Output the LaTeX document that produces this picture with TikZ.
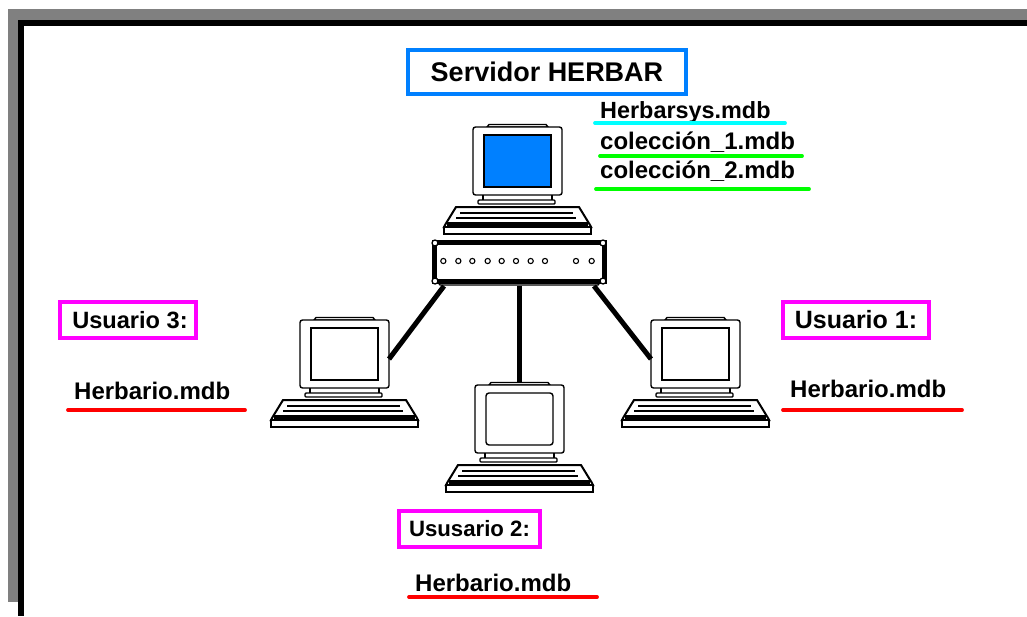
\documentclass[tikz,border=0pt]{standalone}
\usepackage{fontspec}
\setmainfont{Liberation Sans}
\definecolor{frameGray}{RGB}{128,128,128}
\definecolor{srvBlue}{RGB}{0,128,255}
\definecolor{mag}{RGB}{255,0,255}
\definecolor{cyanLine}{RGB}{0,255,255}
\definecolor{greenLine}{RGB}{0,255,0}
\definecolor{redLine}{RGB}{255,0,0}
\tikzset{
  lbl/.style={anchor=base west,inner sep=0pt,font=\fontsize{24}{26}\selectfont\bfseries,text=black},
  userbox/.style={draw=mag,line width=4.5pt,fill=white,inner sep=0pt,minimum height=36pt,text=black,font=\fontsize{23.6}{26}\selectfont\bfseries},
  srvbox/.style={draw=srvBlue,line width=4.5pt,fill=white,inner sep=0pt,minimum height=44pt,minimum width=278pt,text=black,font=\fontsize{27}{28}\selectfont\bfseries},
  uline/.style={line width=3.8pt,line cap=round},
  link/.style={line width=5pt,black},
  thin/.style={line width=1.4pt,black},
  pics/computer/.style 2 args={code={
    % monitor
    \draw[thin,fill=white] (16,-2.5) -- (73,-2.5) -- (75,0) -- (14,0) -- cycle;
    \draw[thin,fill=white,rounded corners=2.5pt] (0,0) rectangle (89,68);
    \draw[thin,fill=#1,rounded corners=#2] (11,8) rectangle (78,60);
    % neck and base
    \draw[thin] (10,68) -- (10,73) (79,68) -- (79,73);
    \draw[thin,fill=white,rounded corners=1pt] (5,73) rectangle (82,77);
    % keyboard
    \draw[line width=2pt,fill=white] (-17,80) -- (106,80) -- (117,98) -- (118,100) -- (-29,100) -- (-28,98) -- cycle;
    \draw[line width=1.2pt] (-13,86) -- (100,86) (-17,91) -- (103,91);
    \fill (-26,95) rectangle (115,100);
    \draw[thin,fill=white] (-29,100) rectangle (118,107);
    \coordinate (-portL) at (0,39);
    \coordinate (-portR) at (89,39);
    \coordinate (-portT) at (44,-2.5);
  }}
}
\begin{document}
\begin{tikzpicture}[x=1pt,y=-1pt]
\useasboundingbox (0,0) rectangle (1027,616);
\fill[white] (0,0) rectangle (1027,616);
% frame
\fill[frameGray] (8,9) rectangle (1027,20);
\fill[frameGray] (8,9) rectangle (18,602);
\fill[black] (18,20) rectangle (1027,26);
\fill[black] (18,20) rectangle (24,616);

% computers
\pic (srv) at (473,127) {computer={srvBlue}{0pt}};
\pic (pcC) at (300,320) {computer={white}{0pt}};
\pic (pcA) at (651,320) {computer={white}{0pt}};
\pic (pcB) at (475,385) {computer={white}{3pt}};

% router
\draw[line width=1.4pt,fill=white] (437,281) -- (440,285) -- (598,285) -- (601,281) -- cycle;
\node[draw=black,line width=5pt,fill=white,outer sep=0pt,minimum width=170pt,minimum height=39pt,inner sep=0pt] (hub) at (519,261.5) {};
\foreach \cx/\cy in {435/243,603/243,435/281,603/281}{
  \draw[line width=1.3pt,fill=white] (\cx,\cy) circle (3pt);
}
\foreach \x in {70,115,157,203,245,288,332,375,468,515}{
  \draw[line width=1.1pt,fill=white] ({420+\x/3},261) circle (2.6pt);
}
\coordinate (hubL) at (444,286);
\coordinate (hubM) at (519,286);
\coordinate (hubR) at (594,286);
\draw[link] (hubL) -- (pcC-portR);
\draw[link] (hubM) -- (pcB-portT);
\draw[link] (hubR) -- (pcA-portL);

% labels
\node[srvbox] (srvlabel) at (547,72) {Servidor HERBAR};

\node[lbl,font=\fontsize{23.4}{26}\selectfont\bfseries] (f0) at (600,118) {Herbarsys.mdb};
\node[lbl] (f1) at (600,149) {colección\_1.mdb};
\node[lbl] (f2) at (600,178) {colección\_2.mdb};
\draw[uline,cyanLine] (595,123) -- (785,123);
\draw[uline,greenLine] (600,156) -- (802,156);
\draw[uline,greenLine] (596,189) -- (809,189);

\node[userbox,minimum width=136pt] (u3) at (128,320) {\hspace*{4pt}Usuario 3:};
\node[userbox,minimum width=146pt,font=\fontsize{25}{26}\selectfont\bfseries] (u1) at (856,320) {Usuario 1:};
\node[userbox,minimum width=141pt,font=\fontsize{22.2}{26}\selectfont\bfseries] (u2) at (469.5,529) {Ususario 2:};

\node[lbl] (h3) at (74,399) {Herbario.mdb};
\node[lbl] (h1) at (790,397) {Herbario.mdb};
\node[lbl] (h2) at (415,591) {Herbario.mdb};
\draw[uline,redLine] (68,410) -- (245,410);
\draw[uline,redLine] (783,410) -- (962,410);
\draw[uline,redLine] (409,597) -- (597,597);
\end{tikzpicture}
\end{document}
